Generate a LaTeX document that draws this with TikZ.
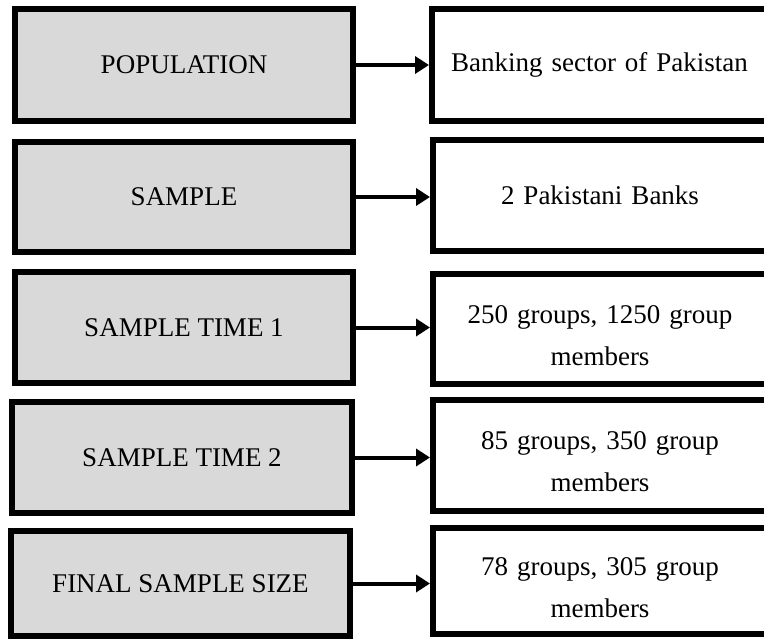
\documentclass[tikz,border=0pt]{standalone}
\usepackage{fontspec}
\setmainfont{Liberation Serif}
\usetikzlibrary{arrows.meta}
\definecolor{boxgray}{HTML}{D9D9D9}
% taller first line, so two-line texts sit a little lower in their box
\newcommand{\firstlinestrut}{\rule{0pt}{31pt}}
\tikzset{
  stage/.style={draw=black, line width=6pt, fill=boxgray, outer sep=3pt,
    inner sep=0pt, align=center, font=\fontsize{27}{42}\selectfont},
  detail/.style={draw=black, line width=6pt, fill=white, outer sep=3pt,
    inner sep=0pt, align=center, text width=310pt,
    font=\fontsize{27}{42}\selectfont},
  link/.style={line width=4pt, -{Triangle[length=14pt,width=17pt]}}
}
\begin{document}
\begin{tikzpicture}[x=1pt,y=-1pt]
\useasboundingbox (0,0) rectangle (764,641);
% left column: sampling stages
\node[stage, minimum width=338pt, minimum height=112pt] (l1) at (184,65) {POPULATION};
\node[stage, minimum width=338pt, minimum height=110pt] (l2) at (184,197) {SAMPLE};
\node[stage, minimum width=338pt, minimum height=111pt] (l3) at (184,327.5) {SAMPLE TIME 1};
\node[stage, minimum width=340pt, minimum height=111pt] (l4) at (182,457.5) {SAMPLE TIME 2};
\node[stage, minimum width=339pt, minimum height=105pt] (l5) at (180.5,583.5) {FINAL SAMPLE SIZE};
% right column: what each stage contains
\node[detail, minimum width=335pt, minimum height=112pt] (r1) at (599.5,65) {Banking sector of Pakistan};
\node[detail, minimum width=334pt, minimum height=111pt] (r2) at (600,195.5) {2 Pakistani Banks};
\node[detail, minimum width=334pt, minimum height=110pt] (r3) at (600,329) {\firstlinestrut 250 groups, 1250 group\\members};
\node[detail, minimum width=334pt, minimum height=111pt] (r4) at (600,455.5) {\firstlinestrut 85 groups, 350 group\\members};
\node[detail, minimum width=334pt, minimum height=106pt] (r5) at (600,581) {\firstlinestrut 78 groups, 305 group\\members};
% connectors
\foreach \i in {1,...,5} {
  \draw[link] (l\i.east) -- (l\i.east -| r\i.west);
}
\end{tikzpicture}
\end{document}
